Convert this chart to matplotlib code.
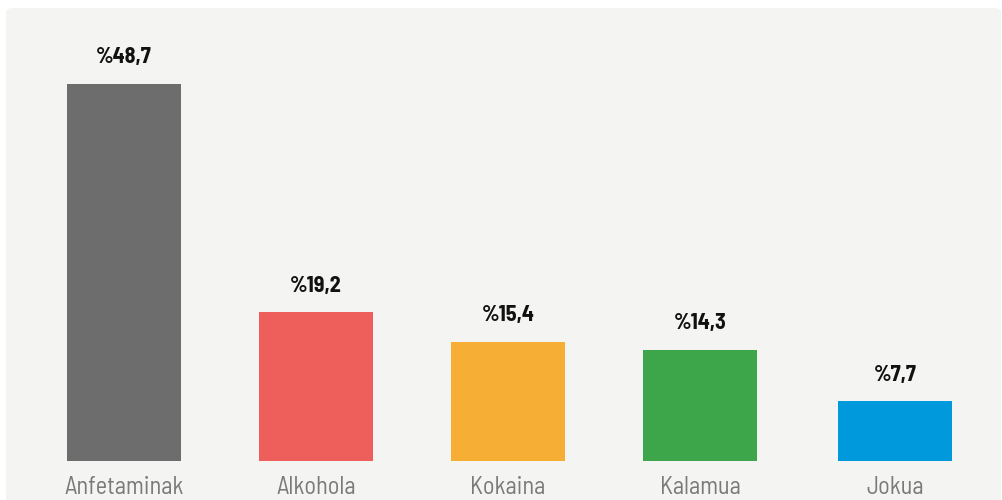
import matplotlib
matplotlib.use("Agg")
import matplotlib.pyplot as plt
from matplotlib.patches import FancyBboxPatch

categories = ["Anfetaminak", "Alkohola", "Kokaina", "Kalamua", "Jokua"]
values = [48.7, 19.2, 15.4, 14.3, 7.7]
value_labels = ["%48,7", "%19,2", "%15,4", "%14,3", "%7,7"]
colors = ["#6d6d6d", "#ee5f5b", "#f6ae35", "#3ea64a", "#0099dc"]

fam = ["Barlow Semi Condensed", "DejaVu Sans"]

W, H = 1002, 500
fig = plt.figure(figsize=(W / 100, H / 100), dpi=100)
fig.patch.set_facecolor("white")

panel = FancyBboxPatch((6 / W, -0.2), (1001 - 6) / W, 1.2 - 8 / H,
                       boxstyle="round,pad=0,rounding_size=0.008",
                       transform=fig.transFigure, facecolor="#f4f4f2", edgecolor="none", zorder=-5)
fig.patches.append(panel)

base = 39
ax = fig.add_axes([0, base / H, 1, (H - base) / H])
ax.set_facecolor("none")
ax.set_zorder(1)
scale_x = 192.0
x0 = 124
ax.set_xlim(-x0 / scale_x, (W - x0) / scale_x)
ppu = 7.74
ax.set_ylim(0, (H - base) / ppu)

pos = [0, 1, 2, 3, 4.015]
ax.bar(pos, values, width=114 / scale_x, color=colors, zorder=2)
for p, v, lab in zip(pos, values, value_labels):
    ax.annotate(lab, (p, v), xytext=(0, 15), textcoords="offset points", ha="center", va="baseline",
                fontsize=16, fontweight="bold", family=fam, color="#111111")

ax.set_xticks(pos)
ax.set_xticklabels(categories, fontsize=17.5, family=fam, fontweight="normal", color="#7a7a7a")
ax.tick_params(axis="x", length=0, pad=11)
ax.tick_params(axis="y", left=False, labelleft=False)
for s in ax.spines.values():
    s.set_visible(False)

fig.savefig("out.png", dpi=100, facecolor=fig.get_facecolor())
